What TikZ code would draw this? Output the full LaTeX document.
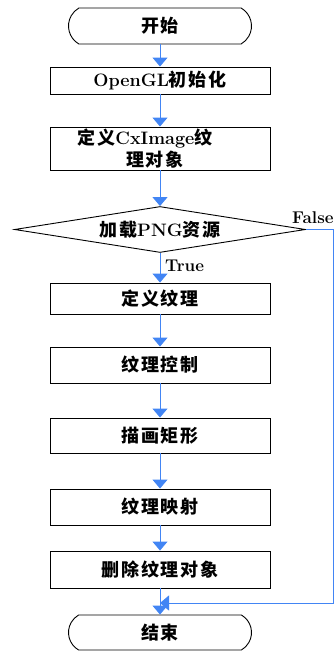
\documentclass[tikz,border=0pt]{standalone}
\usepackage{fontspec}
\newfontfamily\cjk{Noto Sans CJK SC}[LetterSpace=10]
\usetikzlibrary{arrows.meta,shapes.geometric,shapes.misc}
\definecolor{flowblue}{RGB}{66,133,244}
\newcommand\zh[1]{{\cjk #1}}
\begin{document}
\begin{tikzpicture}[x=1pt,y=-1pt,
  txt/.style={font=\fontsize{18}{22}\selectfont\bfseries},
  box/.style={txt, draw=black, line width=0.9pt, minimum width=220pt, inner sep=0pt},
  term/.style={txt, draw=black, line width=0.9pt, rounded rectangle, rounded rectangle arc length=120, minimum width=183pt, minimum height=36pt, inner sep=0pt},
  decision/.style={txt, draw=black, line width=0.9pt, diamond, aspect=6.3, minimum width=291pt, minimum height=46pt, inner sep=0pt},
  flow/.style={draw=flowblue, line width=1pt, -{Triangle[width=15pt,length=9pt]}},
  lbl/.style={font=\fontsize{17}{20}\selectfont\bfseries, inner sep=0pt}]
\useasboundingbox (0,0) rectangle (336,652);
\node[term] (start) at (160,26) {\zh{开始}};
\node[box, minimum height=27pt] (init) at (160,80.5) {OpenGL\zh{初始化}};
\node[box, minimum height=43pt, align=center] (def) at (160,148.5)
  {\zh{定义}CxImage\zh{纹}\hspace*{30pt}\\\zh{理对象}\hspace*{10pt}};
\node[decision] (dec) at (160,229.5) {\zh{加载}PNG\zh{资源}};
\node[box, minimum height=31pt] (tex) at (160,298.5) {\zh{定义纹理}};
\node[box, minimum height=36pt] (ctl) at (160,365) {\zh{纹理控制}};
\node[box, minimum height=35pt] (rect) at (160,435.5) {\zh{描画矩形}};
\node[box, minimum height=36pt] (map) at (160,507) {\zh{纹理映射}};
\node[box, minimum height=37pt] (del) at (160,569.5) {\zh{删除纹理对象}};
\node[term, minimum height=35pt] (end) at (160,632.5) {\zh{结束}};
\coordinate (fr) at (333,229.5);
\coordinate (join) at (160,603);
\node[lbl, anchor=west] (tl) at (165,266) {True};
\node[lbl, anchor=west] (fl) at (292,218) {False};
\draw[flow] (start.south) -- (init.north);
\draw[flow] (init.south) -- (def.north);
\draw[flow] (def.south) -- (dec.north);
\draw[flow] (dec.south) -- (tex.north);
\draw[flow] (tex.south) -- (ctl.north);
\draw[flow] (ctl.south) -- (rect.north);
\draw[flow] (rect.south) -- (map.north);
\draw[flow] (map.south) -- (del.north);
\draw[flow] (del.south) -- (end.north);
\draw[flow] (dec.east) -- (fr) |- (join);
\end{tikzpicture}
\end{document}
